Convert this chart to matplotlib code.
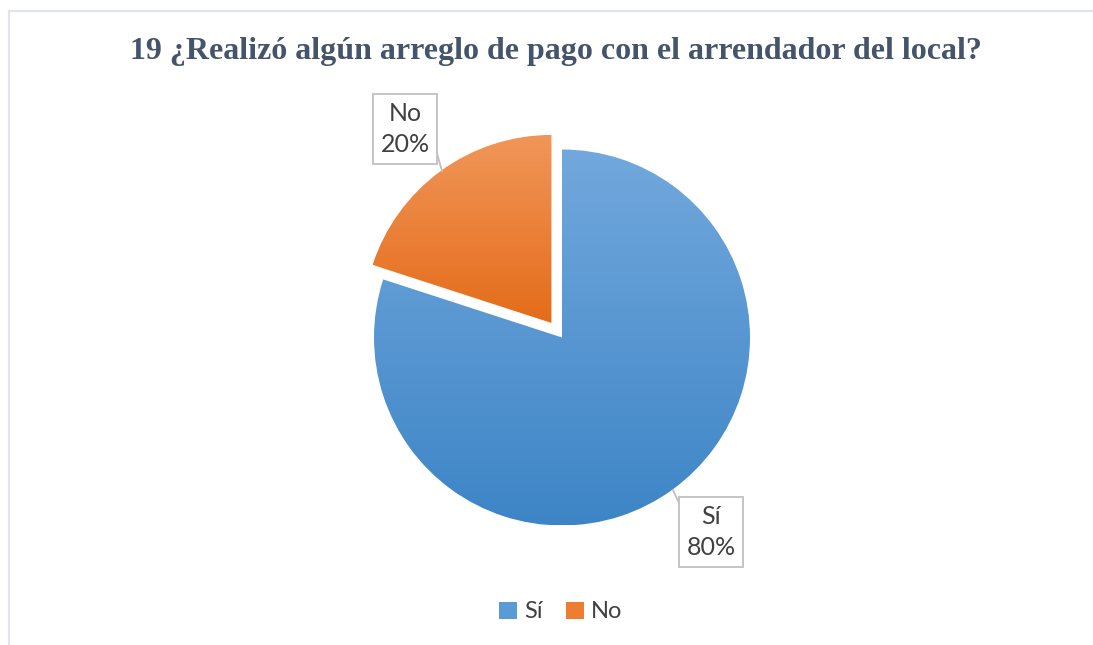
import numpy as np
import matplotlib.pyplot as plt
from matplotlib.patches import Rectangle, Patch
from matplotlib.colors import to_rgb

labels = ['Sí', 'No']
values = [80, 20]
top_colors = ['#72A8DD', '#F19659']
bottom_colors = ['#3D85C6', '#E46C1A']
solid_colors = ['#5B9BD5', '#ED7D31']
title = '19 ¿Realizó algún arreglo de pago con el arrendador del local?'

W, H = 1093, 645
fig = plt.figure(figsize=(W / 100, H / 100), dpi=100)
ax = fig.add_axes([0, 0, 1, 1])
ax.set_xlim(0, W)
ax.set_ylim(0, H)
ax.axis('off')

# outer frame (only top and left visible in the reference)
ax.add_patch(Rectangle((9, -20), W + 40, H - 11 + 20, fill=False,
                       edgecolor='#E1E4EA', linewidth=1.6))

cx, cy, r = 562, H - 337.5, 188
# explode is in data units here (pixels)
wedges, _ = ax.pie(values, startangle=90, counterclock=False,
                   explode=[0, 18], center=(cx, cy), radius=r,
                   wedgeprops=dict(linewidth=0), frame=True)

# vertical gradient per slice
for w, c0, c1 in zip(wedges, top_colors, bottom_colors):
    bb = w.get_path().get_extents()
    t = np.linspace(0, 1, 256)[:, None, None]
    grad = (1 - t) * np.array(to_rgb(c0)) + t * np.array(to_rgb(c1))
    im = ax.imshow(grad, extent=(bb.x0, bb.x1, bb.y0, bb.y1), origin='upper',
                   aspect='auto', zorder=w.get_zorder(), interpolation='bilinear')
    im.set_clip_path(w)
    w.set_facecolor('none')

ax.set_xlim(0, W)
ax.set_ylim(0, H)
ax.set_aspect('equal')
ax.axis('off')

# data labels with leader lines
box = dict(boxstyle='square,pad=0.3', facecolor='white', edgecolor='#BFBFBF', linewidth=1.3)
lab_font = dict(family='Lato', fontsize=18, color='#404040', ha='center', va='center',
                linespacing=1.45)
ax.plot([436, 442], [H - 150, H - 171], color='#BFBFBF', lw=1.3)
ax.plot([673, 680], [H - 490, H - 505], color='#BFBFBF', lw=1.3)
ax.text(405, H - 129, f'{labels[1]}\n{values[1]}%', bbox=box, **lab_font)
ax.text(711, H - 532, f'{labels[0]}\n{values[0]}%', bbox=box, **lab_font)

fig.text(556 / W, 1 - 52 / H, title, ha='center', va='center', family='Liberation Serif',
         fontweight='bold', fontsize=23, color='#44546A')

handles = [Patch(facecolor=c, edgecolor='none') for c in solid_colors]
fig.legend(handles, labels, loc='center', bbox_to_anchor=(561 / W, 1 - 612 / H), ncol=2,
           frameon=False, handlelength=0.75, handleheight=0.75, handletextpad=0.3,
           columnspacing=1.0, prop=dict(family='Lato', size=17), labelcolor='#404040')

fig.savefig('out.png', dpi=100)
